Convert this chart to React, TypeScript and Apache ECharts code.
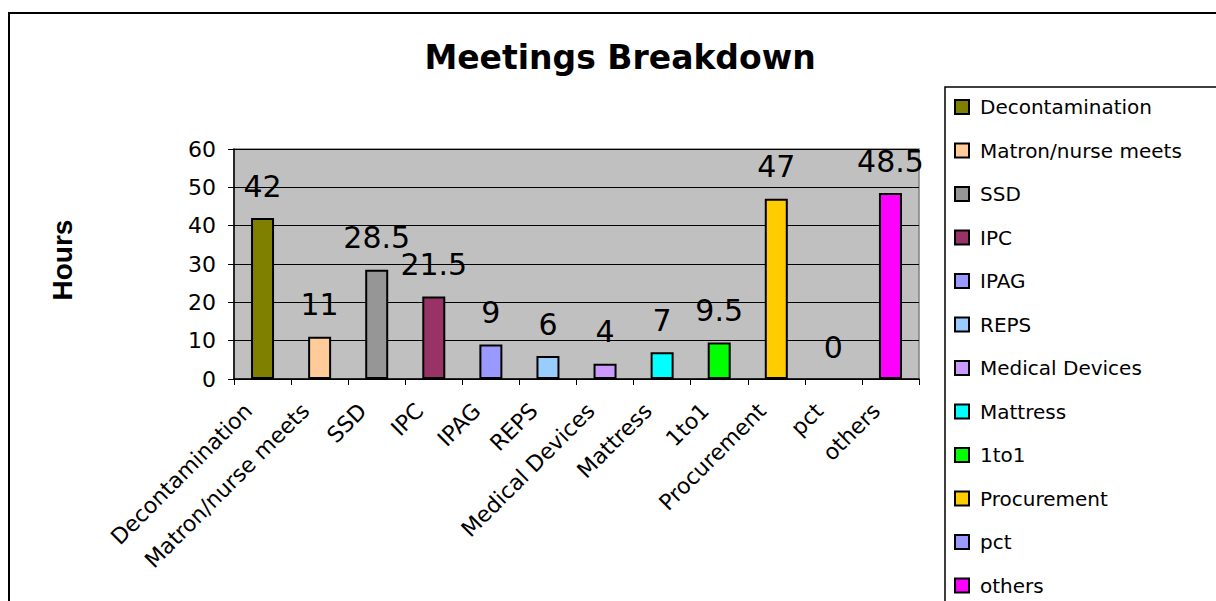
import React, { useEffect, useRef } from "react";
import * as echarts from "echarts";

const categories = [
  "Decontamination",
  "Matron/nurse meets",
  "SSD",
  "IPC",
  "IPAG",
  "REPS",
  "Medical Devices",
  "Mattress",
  "1to1",
  "Procurement",
  "pct",
  "others",
];
const hours = [42, 11, 28.5, 21.5, 9, 6, 4, 7, 9.5, 47, 0, 48.5];
const colors = [
  "#808000",
  "#FFCC99",
  "#969696",
  "#993366",
  "#9999FF",
  "#99CCFF",
  "#CC99FF",
  "#00FFFF",
  "#00FF00",
  "#FFCC00",
  "#9999FF",
  "#FF00FF",
];
const yTicks = { min: 0, max: 60, interval: 10 };
const titleText = "Meetings Breakdown";
const yAxisTitle = "Hours";

const FONT = "DejaVu Sans";

export default function App() {
  const ref = useRef<HTMLDivElement>(null);
  useEffect(() => {
    if (!ref.current) return;
    const chart = echarts.init(ref.current, null, { renderer: "svg" });
    const series = categories.map((name, i) => ({
      name,
      type: "bar",
      stack: "all",
      barWidth: 23,
      data: hours.map((v, j) =>
        j === i
          ? {
              value: v,
              itemStyle: v === 0 ? { borderWidth: 0 } : undefined,
            }
          : null
      ),
      itemStyle: { color: colors[i], borderColor: "#000", borderWidth: 2 },
      label: {
        show: true,
        position: "top",
        distance: 17,
        fontFamily: FONT,
        fontSize: 30,
        color: "#000",
      },
    }));
    chart.setOption({
      animation: false,
      backgroundColor: "#fff",
      graphic: [
        {
          type: "rect",
          shape: { x: 9, y: 13, width: 1400, height: 800 },
          style: { fill: "none", stroke: "#000", lineWidth: 2 },
          silent: true,
        },
        {
          type: "rect",
          shape: { x: 945, y: 87, width: 400, height: 800 },
          style: { fill: "none", stroke: "#000", lineWidth: 1.5 },
          silent: true,
        },
        {
          type: "text",
          x: 620,
          y: 57,
          style: {
            text: titleText,
            fontFamily: FONT,
            fontWeight: "bold",
            fontSize: 33,
            fill: "#000",
            align: "center",
            verticalAlign: "middle",
          },
        },
        {
          type: "text",
          x: 62,
          y: 260,
          rotation: Math.PI / 2,
          style: {
            text: yAxisTitle,
            fontFamily: "Liberation Sans",
            fontWeight: "bold",
            fontSize: 28,
            fill: "#000",
            align: "center",
            verticalAlign: "middle",
          },
        },
      ],
      legend: {
        orient: "vertical",
        left: 954,
        top: 97,
        padding: 0,
        itemGap: 23.5,
        itemWidth: 14,
        itemHeight: 14,
        icon: "rect",
        itemStyle: { borderColor: "#000", borderWidth: 2 },
        textStyle: {
          fontFamily: FONT,
          fontSize: 20,
          color: "#000",
          padding: [0, 0, 0, 6],
        },
        data: categories,
      },
      grid: {
        left: 234,
        top: 149,
        right: 297,
        bottom: 222,
        show: true,
        backgroundColor: "#C0C0C0",
        borderColor: "#808080",
        borderWidth: 1.5,
      },
      xAxis: {
        type: "category",
        data: categories,
        axisLine: { show: true, lineStyle: { color: "#000", width: 1.5 } },
        axisTick: {
          show: true,
          alignWithLabel: false,
          length: 6,
          lineStyle: { color: "#000" },
        },
        axisLabel: {
          interval: 0,
          rotate: 45,
          margin: 14,
          padding: [0, 20, 0, 0],
          fontFamily: FONT,
          fontSize: 22,
          color: "#000",
        },
      },
      yAxis: {
        type: "value",
        min: yTicks.min,
        max: yTicks.max,
        interval: yTicks.interval,
        axisLine: { show: true, lineStyle: { color: "#000", width: 1.5 } },
        axisTick: { show: true, length: 6, lineStyle: { color: "#000" } },
        splitLine: { show: true, lineStyle: { color: "#000", width: 1 } },
        axisLabel: {
          margin: 18,
          fontFamily: FONT,
          fontSize: 22,
          color: "#000",
        },
      },
      series,
    });
    return () => chart.dispose();
  }, []);
  return (
    <div
      ref={ref}
      style={{ position: "fixed", left: 0, top: 0, width: 1216, height: 601 }}
    />
  );
}
